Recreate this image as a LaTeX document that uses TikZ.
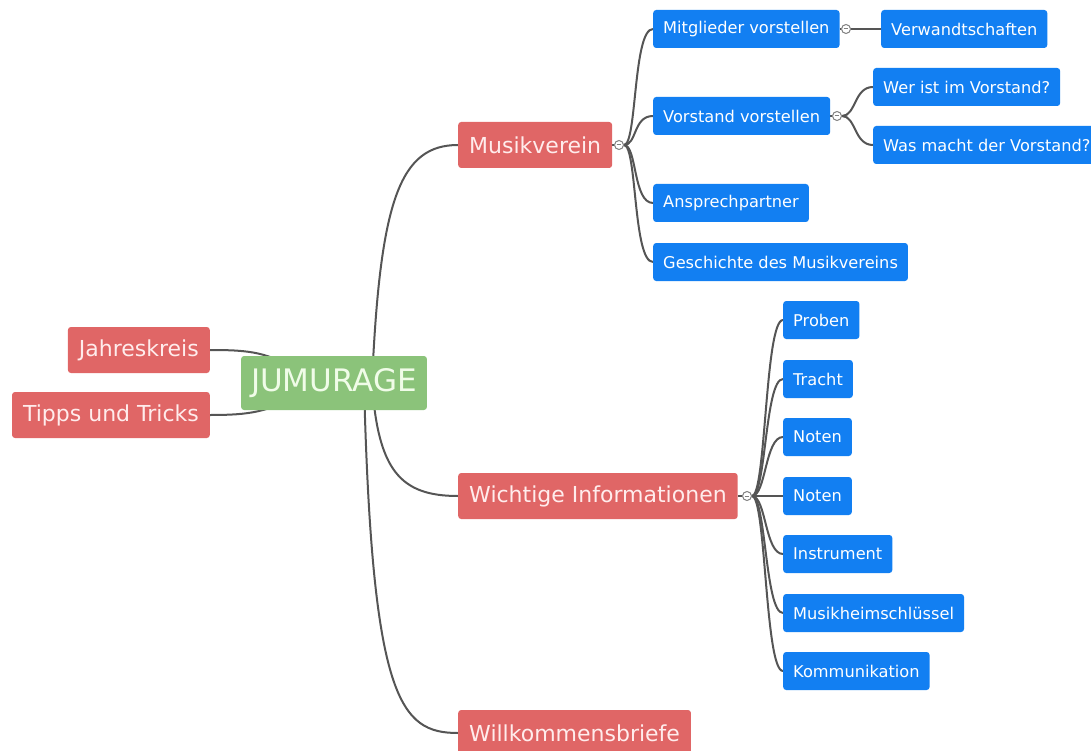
\documentclass[tikz,border=0pt]{standalone}
\usepackage{fontspec}
\setmainfont{DejaVu Sans}
\usepackage{xcolor}
\usetikzlibrary{backgrounds}

\definecolor{rootgreen}{RGB}{139,195,122}
\definecolor{topred}{RGB}{224,102,102}
\definecolor{subblue}{RGB}{18,127,242}
\definecolor{linegray}{RGB}{85,85,85}

\tikzset{
  rootbox/.style={rectangle, rounded corners=3pt, fill=rootgreen, text={rgb,255:red,240;green,252;blue,232},
    minimum height=54pt, inner xsep=10pt, font=\fontsize{31}{34}\selectfont},
  topicbox/.style={rectangle, rounded corners=3pt, fill=topred, text={rgb,255:red,255;green,236;blue,236},
    minimum height=46pt, inner xsep=11pt, font=\fontsize{22}{25}\selectfont},
  subbox/.style={rectangle, rounded corners=3pt, fill=subblue, text=white,
    minimum height=38pt, inner xsep=10pt, font=\fontsize{16.2}{19}\selectfont},
  toggle/.style={circle, draw=gray, fill=white, line width=1pt, inner sep=0pt, minimum size=9pt,
    path picture={\draw[gray, line width=1pt] ([xshift=-2.4pt]path picture bounding box.center)
      -- ([xshift=2.4pt]path picture bounding box.center);}},
  branch/.style={draw=linegray, line width=2pt}
}

\begin{document}
\begin{tikzpicture}[x=1pt, y=-1pt]
  \useasboundingbox (0,0) rectangle (1091,751);

  % main topic and left side
  \node[rootbox] (root) at (334,383) {JUMURAGE};
  \node[topicbox, anchor=east] (jahr) at (210,350) {Jahreskreis};
  \node[topicbox, anchor=east] (tipps) at (210,415) {Tipps und Tricks};

  % right side topics
  \node[topicbox, anchor=west] (verein) at (458,145) {Musikverein};
  \node[topicbox, anchor=west] (infos) at (458,496) {Wichtige Informationen};
  \node[topicbox, anchor=west] (briefe) at (458,733) {Willkommensbriefe};

  \node[toggle] (vereintog) at (619,145) {};
  \node[toggle] (infostog) at (747,496) {};

  % Musikverein
  \node[subbox, anchor=west] (mitglieder) at (653,29) {Mitglieder vorstellen};
  \node[subbox, anchor=west] (vorstand) at (653,116) {Vorstand vorstellen};
  \node[subbox, anchor=west] (ansprech) at (653,203) {Ansprechpartner};
  \node[subbox, anchor=west] (geschichte) at (653,262) {Geschichte des Musikvereins};

  \node[toggle] (mitgliedertog) at (846,29) {};
  \node[toggle] (vorstandtog) at (837,116) {};

  \node[subbox, anchor=west] (verwandt) at (881,29) {Verwandtschaften};
  \node[subbox, anchor=west] (werist) at (873,87) {Wer ist im Vorstand?};
  \node[subbox, anchor=west] (wasmacht) at (873,145) {Was macht der Vorstand?};

  % Wichtige Informationen
  \node[subbox, anchor=west] (proben) at (783,320) {Proben};
  \node[subbox, anchor=west] (tracht) at (783,379) {Tracht};
  \node[subbox, anchor=west] (notena) at (783,437) {Noten};
  \node[subbox, anchor=west] (notenb) at (783,496) {Noten};
  \node[subbox, anchor=west] (instrument) at (783,554) {Instrument};
  \node[subbox, anchor=west] (schluessel) at (783,613) {Musikheimschlüssel};
  \node[subbox, anchor=west] (kommunikation) at (783,671) {Kommunikation};

  \begin{scope}[on background layer]
    % from the main topic
    \draw[branch] (jahr.east) .. controls (250,350) and (268,352) .. (300,372);
    \draw[branch] (tipps.east) .. controls (250,415) and (268,412) .. (300,394);
    \draw[branch] ([xshift=38pt]root.center) .. controls (380,200) and (400,145) .. (verein.west);
    \draw[branch] ([xshift=38pt]root.center) .. controls (378,470) and (400,496) .. (infos.west);
    \draw[branch] ([xshift=30pt]root.center) .. controls (372,700) and (400,733) .. (briefe.west);

    % toggles
    \draw[branch] (verein.east) -- (vereintog.west);
    \draw[branch] (infos.east) -- (infostog.west);
    \draw[branch] (mitglieder.east) -- (mitgliedertog.west);
    \draw[branch] (vorstand.east) -- (vorstandtog.west);

    % Musikverein branches
    \foreach \kid in {mitglieder, vorstand, ansprech, geschichte}
      \draw[branch] (vereintog.east) .. controls +(13,0) and ([xshift=-20pt]\kid.west) .. (\kid.west);
    \draw[branch] (mitgliedertog.east) -- (verwandt.west);
    \foreach \kid in {werist, wasmacht}
      \draw[branch] (vorstandtog.east) .. controls +(14,0) and ([xshift=-19pt]\kid.west) .. (\kid.west);

    % Wichtige Informationen branches
    \foreach \kid in {proben, tracht, notena, notenb, instrument, schluessel, kommunikation}
      \draw[branch] (infostog.east) .. controls +(14,0) and ([xshift=-18pt]\kid.west) .. (\kid.west);
  \end{scope}
\end{tikzpicture}
\end{document}
